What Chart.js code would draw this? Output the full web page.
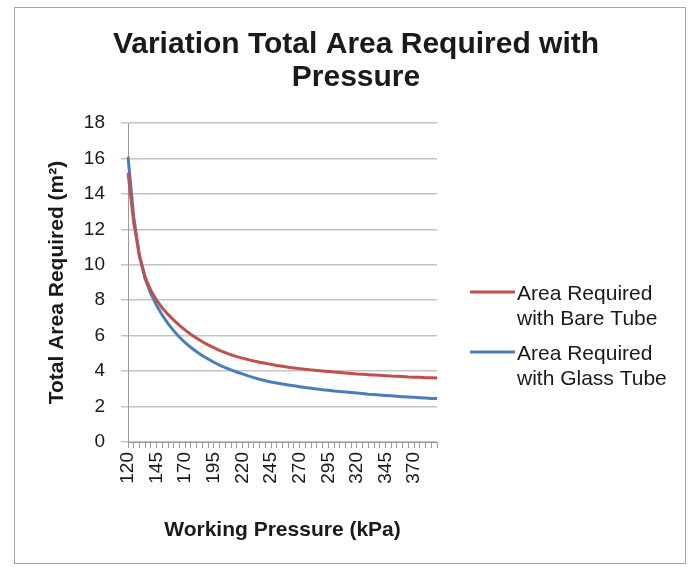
<!DOCTYPE html>
<html>
<head>
<meta charset="utf-8">
<script src="https://cdn.jsdelivr.net/npm/chart.js@4.4.0/dist/chart.umd.min.js"></script>
<style>
  html, body { margin: 0; padding: 0; background: #fff; }
</style>
</head>
<body>
<canvas id="chart" width="692" height="567"></canvas>
<script>
// Working pressure categories (kPa)
const pressures = [120, 125, 130, 135, 140, 145, 150, 155, 160, 165,
  170, 175, 180, 185, 190, 195, 200, 205, 210, 215,
  220, 225, 230, 235, 240, 245, 250, 255, 260, 265,
  270, 275, 280, 285, 290, 295, 300, 305, 310, 315,
  320, 325, 330, 335, 340, 345, 350, 355, 360, 365,
  370, 375, 380, 385, 390];

// Total area required (m2)
const bareTube = [15.2, 12.4, 10.5, 9.3, 8.55, 8.0, 7.56, 7.2, 6.88, 6.58,
  6.31, 6.07, 5.86, 5.66, 5.48, 5.32, 5.17, 5.04, 4.92, 4.82,
  4.73, 4.65, 4.57, 4.5, 4.44, 4.38, 4.32, 4.27, 4.22, 4.18,
  4.14, 4.1, 4.07, 4.04, 4.01, 3.98, 3.95, 3.92, 3.89, 3.87,
  3.84, 3.82, 3.8, 3.78, 3.76, 3.74, 3.72, 3.71, 3.69, 3.67,
  3.66, 3.65, 3.63, 3.62, 3.61];

const glassTube = [16.1, 12.7, 10.5, 9.2, 8.35, 7.7, 7.15, 6.68, 6.27, 5.91,
  5.6, 5.33, 5.09, 4.87, 4.68, 4.5, 4.34, 4.2, 4.07, 3.95,
  3.84, 3.73, 3.63, 3.54, 3.46, 3.39, 3.33, 3.27, 3.22, 3.17,
  3.12, 3.07, 3.03, 2.99, 2.95, 2.92, 2.88, 2.85, 2.82, 2.79,
  2.76, 2.73, 2.7, 2.68, 2.65, 2.63, 2.61, 2.58, 2.56, 2.54,
  2.52, 2.5, 2.48, 2.46, 2.45];

const titleLines = ['Variation Total Area Required with', 'Pressure'];
const bareLegend = ['Area Required', 'with Bare Tube'];
const glassLegend = ['Area Required', 'with Glass Tube'];

const FONT = '"Liberation Sans", Arial, sans-serif';
const TEXT = '#1a1a1a';

// white background + thin frame round the whole chart
const framePlugin = {
  id: 'frame',
  beforeDraw(chart) {
    const ctx = chart.ctx;
    ctx.save();
    ctx.fillStyle = '#fff';
    ctx.fillRect(0, 0, chart.width, chart.height);
    ctx.strokeStyle = '#a6a6a6';
    ctx.lineWidth = 1;
    ctx.strokeRect(14.5, 7.5, 671, 556);
    ctx.restore();
  }
};

// title spans the full frame width, not just the plot + padding
const titlePlugin = {
  id: 'wideTitle',
  afterDraw(chart) {
    const ctx = chart.ctx;
    ctx.save();
    ctx.fillStyle = TEXT;
    ctx.font = 'bold 30px ' + FONT;
    ctx.textAlign = 'center';
    ctx.textBaseline = 'middle';
    titleLines.forEach((t, i) => ctx.fillText(t, 356, 45 + i * 33));
    ctx.restore();
  }
};

// legend on the right, two-line labels like Excel
const sideLegend = {
  id: 'sideLegend',
  afterDraw(chart) {
    const ctx = chart.ctx;
    const x0 = chart.chartArea.right + 33;
    ctx.save();
    chart.data.datasets.forEach((ds, k) => {
      const y = 292 + k * 60;
      ctx.strokeStyle = ds.borderColor;
      ctx.lineWidth = 3;
      ctx.beginPath();
      ctx.moveTo(x0, y);
      ctx.lineTo(x0 + 45, y);
      ctx.stroke();
      ctx.fillStyle = TEXT;
      ctx.font = '21px ' + FONT;
      ctx.textBaseline = 'middle';
      ds.legendText.forEach((t, j) => ctx.fillText(t, x0 + 47, y + 2 + j * 25));
    });
    ctx.restore();
  }
};

new Chart(document.getElementById('chart'), {
  type: 'line',
  data: {
    labels: pressures,
    datasets: [
      {
        label: bareLegend.join(' '),
        legendText: bareLegend,
        data: bareTube,
        borderColor: '#C0504D',
        borderWidth: 3,
        pointRadius: 0,
        tension: 0
      },
      {
        label: glassLegend.join(' '),
        legendText: glassLegend,
        data: glassTube,
        borderColor: '#4A7EBB',
        borderWidth: 3,
        pointRadius: 0,
        tension: 0
      }
    ]
  },
  plugins: [framePlugin, titlePlugin, sideLegend],
  options: {
    responsive: false,
    animation: false,
    layout: { padding: { top: 123, left: 41, right: 255, bottom: 20 } },
    plugins: {
      legend: { display: false },
      tooltip: { enabled: false },
      title: { display: false }
    },
    scales: {
      x: {
        ticks: {
          autoSkip: false,
          minRotation: 90,
          maxRotation: 90,
          padding: 4,
          color: TEXT,
          font: { family: FONT, size: 19 },
          callback: (v, i) => (i % 5 === 0 ? String(pressures[i]) : '')
        },
        grid: { drawOnChartArea: false, tickLength: 6, color: '#9a9a9a' },
        border: { color: '#9a9a9a' },
        title: {
          display: true,
          text: 'Working Pressure (kPa)',
          color: TEXT,
          font: { family: FONT, size: 21, weight: 'bold' }
        },
        afterFit: (s) => { s.height = 105; }
      },
      y: {
        min: 0,
        max: 18,
        ticks: {
          stepSize: 2,
          padding: 16,
          color: TEXT,
          font: { family: FONT, size: 19 }
        },
        grid: { color: '#c4c4c4', lineWidth: 1.5, tickLength: 7 },
        border: { color: '#9a9a9a' },
        title: {
          display: true,
          text: 'Total Area Required (m²)',
          color: TEXT,
          font: { family: FONT, size: 21, weight: 'bold' }
        },
        afterFit: (s) => { s.width = 87; }
      }
    }
  }
});
</script>
</body>
</html>
